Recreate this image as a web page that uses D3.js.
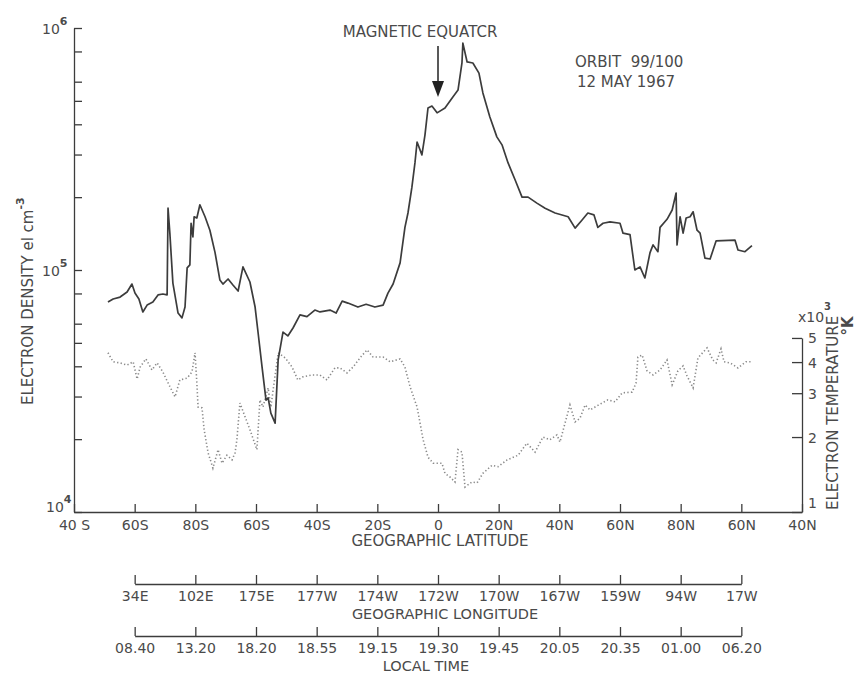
<!DOCTYPE html>
<html>
<head>
<meta charset="utf-8">
<script src="https://cdn.jsdelivr.net/npm/d3@7"></script>
<style>
  body { margin: 0; background: #fff; }
  text { font-family: "DejaVu Sans", sans-serif; fill: #4a4a4a; }
</style>
</head>
<body>
<script>
// along-track position in degrees (0 = 40S at start), density in 10^3 el/cm3
const density = [[11.2,73.7],[12.9,75.9],[15.2,77.3],[17.5,81.1],[19.1,87.5],[20.1,80.3],[21.4,75.9],[22.7,67.1],[24.1,71.6],[26.0,73.7],[27.7,78.9],[29.3,79.6],[30.7,78.9],[31.0,180],[31.6,142],[32.6,88.3],[34.3,66.4],[35.6,63.4],[36.6,70.3],[37.3,102],[38.2,105],[38.6,156],[39.2,137],[39.6,166],[40.5,164],[41.5,186],[43.2,166],[44.8,146],[46.5,118],[48.1,90.9],[49.1,87.5],[50.8,91.8],[52.4,86.7],[54.1,81.9],[55.7,103],[58.0,89.2],[59.7,70.3],[60.7,54.9],[62.0,39.7],[63.3,29.0],[64.0,29.6],[64.9,25.6],[66.3,23.3],[67.3,42.5],[68.9,55.4],[70.5,53.4],[72.2,57.6],[74.5,65.2],[76.8,64.2],[79.4,68.3],[81.1,67.1],[84.4,68.3],[86.4,66.4],[88.4,74.4],[90.3,73.0],[93.6,70.3],[96.3,72.2],[99.2,70.3],[101.9,71.6],[103.5,80.3],[105.2,87.5],[107.5,107],[109.1,150],[110.1,172],[111.4,220],[112.4,277],[113.1,338],[114.7,299],[115.7,361],[116.7,467],[118.0,476],[119.7,446],[122.3,467],[124.9,519],[126.6,554],[127.9,717],[128.2,866],[129.6,724],[131.5,717],[133.5,651],[134.8,539],[137.1,429],[139.4,355],[141.1,329],[143.1,277],[145.4,236],[147.7,200],[149.7,200],[152.6,189],[155.3,180],[158.6,172],[162.9,166],[165.2,149],[167.5,161],[169.4,172],[171.4,169],[172.7,150],[174.4,156],[176.7,158],[180.0,156],[181.0,142],[183.3,140],[184.9,100],[186.6,103],[188.2,92.7],[189.9,118],[190.9,127],[192.5,119],[193.2,150],[195.5,162],[197.2,177],[198.5,208],[198.8,127],[199.8,166],[200.8,142],[201.8,164],[203.1,166],[204.1,174],[205.4,146],[206.4,142],[208.0,112],[209.7,111],[211.7,132],[217.9,133],[218.9,121],[221.2,119],[223.5,126]];

// electron temperature in 10^3 K
const temperature = [[11.2,4.36],[12.9,4.01],[15.2,3.97],[17.5,3.89],[19.5,4.01],[20.8,3.42],[21.8,3.82],[23.7,4.12],[25.7,3.72],[27.4,3.97],[29.3,3.65],[31.0,3.30],[33.3,2.90],[34.9,3.39],[37.3,3.45],[38.9,3.65],[39.9,4.36],[40.5,3.30],[40.9,2.64],[42.2,2.62],[42.9,2.14],[44.2,1.73],[45.8,1.50],[47.5,1.78],[48.8,1.57],[50.4,1.69],[52.1,1.62],[53.1,1.73],[53.7,1.95],[54.7,2.74],[56.4,2.41],[58.0,2.14],[60.3,1.78],[61.3,2.82],[62.3,2.64],[64.0,3.15],[64.9,2.64],[67.3,4.36],[69.6,4.16],[71.9,3.82],[73.8,3.39],[75.5,3.49],[78.5,3.55],[81.1,3.55],[83.4,3.39],[86.0,3.79],[87.7,3.79],[90.0,3.62],[92.0,3.82],[94.3,4.16],[96.6,4.48],[98.6,4.19],[101.9,4.19],[104.2,4.01],[107.5,4.12],[109.1,3.82],[110.8,3.18],[113.1,2.64],[115.1,1.95],[116.7,1.66],[118.4,1.57],[121.3,1.57],[122.3,1.43],[124.0,1.38],[125.6,1.32],[126.6,1.78],[127.9,1.74],[128.9,1.26],[131.2,1.32],[132.9,1.31],[134.8,1.43],[137.8,1.54],[139.8,1.52],[142.8,1.62],[146.4,1.69],[149.3,1.89],[152.0,1.74],[154.6,2.00],[156.9,1.95],[159.2,2.04],[160.2,1.91],[163.5,2.69],[165.2,2.30],[166.8,2.38],[168.5,2.69],[170.1,2.57],[174.1,2.74],[176.0,2.82],[178.4,2.77],[180.7,3.01],[184.0,3.03],[185.3,3.30],[185.9,4.19],[187.3,4.27],[188.9,3.69],[190.9,3.55],[193.2,3.72],[195.5,4.08],[197.2,3.24],[199.1,3.69],[200.8,3.86],[202.1,3.52],[204.1,3.15],[205.7,4.16],[208.7,4.56],[210.6,4.08],[211.7,3.97],[213.3,4.52],[214.3,4.01],[216.3,3.97],[218.9,3.79],[221.5,4.01],[223.5,4.01]];

const latitudeLabels = ["40 S","60S","80S","60S","40S","20S","0","20N","40N","60N","80N","60N","40N"];
const longitudeLabels = ["34E","102E","175E","177W","174W","172W","170W","167W","159W","94W","17W"];
const localTimeLabels = ["08.40","13.20","18.20","18.55","19.15","19.30","19.45","20.05","20.35","01.00","06.20"];
const densityTicks = [1e4,2e4,3e4,4e4,5e4,6e4,8e4,1e5,2e5,3e5,4e5,5e5,6e5,8e5,1e6];
const temperatureTicks = [1,2,3,4,5];

const width = 856, height = 677;
const m = {left: 74, right: 802, bottom: 512, top: 28};

const svg = d3.select("body").append("svg")
  .attr("width", width)
  .attr("height", height);

const x = d3.scaleLinear().domain([0, 240]).range([m.left, m.right]);
const y = d3.scaleLog().domain([1e4, 1e6]).range([m.bottom, m.top]);
const yT = d3.scaleLog().domain([1, 5]).range([m.bottom, m.bottom - 249 * Math.log10(5)]);

const ink = "#3c3c3c";

function styleAxis(g) {
  g.selectAll("path, line").attr("stroke", ink).attr("stroke-width", 1.3);
  g.selectAll("text").attr("font-family", "DejaVu Sans").attr("font-size", 14).attr("fill", "#4a4a4a");
}

// latitude axis
svg.append("g")
  .attr("transform", `translate(0,${m.bottom})`)
  .call(d3.axisBottom(x).tickValues(d3.range(0, 241, 20)).tickSizeInner(-8).tickSizeOuter(0)
    .tickFormat((d, i) => latitudeLabels[i]))
  .call(styleAxis)
  .call(g => g.selectAll("text").attr("y", 18).attr("dy", null));

// left density axis
svg.append("g")
  .attr("transform", `translate(${m.left},0)`)
  .call(d3.axisLeft(y).tickValues(densityTicks).tickSizeInner(-8).tickSizeOuter(0).tickFormat(""))
  .call(styleAxis);

const decades = svg.append("g").selectAll("text")
  .data([1e4, 1e5, 1e6])
  .enter().append("text")
  .attr("x", d => d === 1e4 ? 46 : 42)
  .attr("y", d => y(d) + (d === 1e4 ? 0 : 6))
  .attr("font-size", 14);
decades.append("tspan").text("10");
decades.append("tspan").attr("dy", -9).attr("font-size", 11).attr("font-weight", "bold")
  .text(d => Math.round(Math.log10(d)));

// right temperature axis
svg.append("g")
  .attr("transform", `translate(${m.right},0)`)
  .call(d3.axisRight(yT).tickValues(temperatureTicks).tickSizeInner(-10).tickSizeOuter(0).tickFormat(d3.format("d")))
  .call(styleAxis)
  .call(g => g.selectAll("text").attr("x", 6).attr("dy", null)
    .attr("y", d => d === 1 ? -5 : 5));

// longitude and local time scales
const sub = d3.scaleLinear().domain([20, 220]).range([x(20), x(220)]);
[[584, longitudeLabels], [636, localTimeLabels]].forEach(([yy, labels]) => {
  svg.append("g")
    .attr("transform", `translate(0,${yy})`)
    .call(d3.axisBottom(sub).tickValues(d3.range(20, 221, 20)).tickSizeInner(-9).tickSizeOuter(0)
      .tickFormat((d, i) => labels[i]))
    .call(styleAxis)
    .call(g => g.selectAll("text").attr("y", 17).attr("dy", null));
});

// curves
svg.append("path")
  .datum(temperature)
  .attr("fill", "none")
  .attr("stroke", "#8a8a8a")
  .attr("stroke-width", 1.6)
  .attr("stroke-dasharray", "1.3,2.3")
  .attr("d", d3.line().x(d => x(d[0])).y(d => yT(d[1])));

svg.append("path")
  .datum(density)
  .attr("fill", "none")
  .attr("stroke", ink)
  .attr("stroke-width", 1.7)
  .attr("stroke-linejoin", "round")
  .attr("d", d3.line().x(d => x(d[0])).y(d => y(d[1] * 1e3)));

// titles
const title = (tx, ty, str, rot, anchor, size) => svg.append("text")
  .attr("transform", `translate(${tx},${ty})` + (rot ? " rotate(-90)" : ""))
  .attr("text-anchor", anchor || "middle")
  .attr("font-size", size || 15)
  .text(str);

title(440, 546, "GEOGRAPHIC LATITUDE");
title(445, 619, "GEOGRAPHIC LONGITUDE", false, "middle", 14.5);
title(426, 671, "LOCAL TIME", false, "middle", 14.5);

const yl = title(33, 405, "ELECTRON DENSITY el cm", true, "start");
yl.append("tspan").attr("dy", -9).attr("font-size", 11).attr("font-weight", "bold").text("-3");

title(838, 510, "ELECTRON TEMPERATURE", true, "start");
title(853, 326, "°K", true, "middle").attr("font-weight", "bold");

const x10 = svg.append("text").attr("x", 798).attr("y", 322).attr("font-size", 14);
x10.append("tspan").text("x10");
x10.append("tspan").attr("dy", -12).attr("font-size", 10).attr("font-weight", "bold").text("3");

// annotations
title(420, 37, "MAGNETIC EQUATCR");
title(575, 67, "ORBIT  99/100", false, "start").attr("xml:space", "preserve");
title(577, 87, "12 MAY 1967", false, "start");

const ax = x(120);
svg.append("line")
  .attr("x1", ax).attr("x2", ax).attr("y1", 46).attr("y2", 84)
  .attr("stroke", "#222").attr("stroke-width", 1.5);
svg.append("path")
  .attr("d", `M${ax - 6},81 L${ax + 6},81 L${ax},97 Z`)
  .attr("fill", "#222");
</script>
</body>
</html>
